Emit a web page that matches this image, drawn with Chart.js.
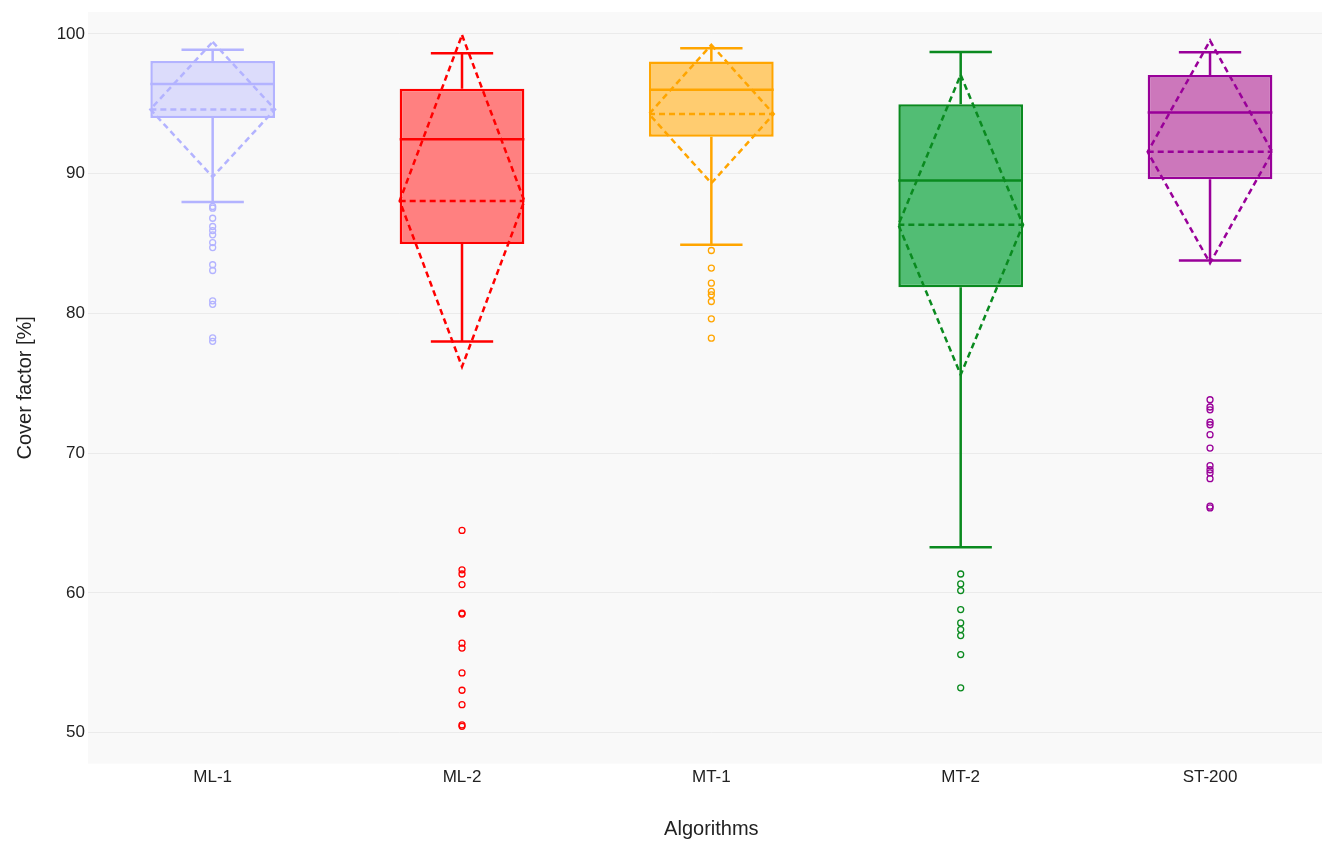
<!DOCTYPE html>
<html>
<head>
  <title>Cover factor by algorithm</title>
  <script src="https://cdn.jsdelivr.net/npm/chart.js"></script>
  <style>
    body {
      margin: 0;
      overflow: hidden;
      background: #fff;
    }
    .wrap {
      width: 1340px;
      height: 841px;
    }
  </style>
</head>
<body>
  <div class="wrap"><canvas id="boxChart"></canvas></div>

  <script>
    // box statistics per algorithm
    const categories = ['ML-1', 'ML-2', 'MT-1', 'MT-2', 'ST-200'];
    const q1Values = [93.99, 84.96, 92.65, 81.88, 89.60];
    const medianValues = [96.42, 92.47, 96.00, 89.51, 94.37];
    const q3Values = [98.07, 96.07, 98.02, 94.97, 97.07];
    const lowerFence = [87.98, 77.99, 84.91, 63.26, 83.79];
    const upperFence = [98.86, 98.62, 98.97, 98.70, 98.69];
    const meanValues = [94.60, 88.05, 94.27, 86.34, 91.56];
    const sdValues = [4.83, 11.87, 4.95, 10.73, 7.96];

    // outliers
    const outliersML1 = [87.65, 87.53, 86.81, 86.22, 85.93, 85.62, 85.07, 84.71, 83.48, 83.07, 80.90, 80.65, 78.25, 78.00];
    const outliersML2 = [64.47, 61.65, 61.35, 60.59, 58.55, 58.48, 56.40, 56.05, 54.27, 53.03, 52.00, 50.55, 50.45];
    const outliersMT1 = [84.50, 83.24, 82.16, 81.57, 81.33, 80.85, 79.61, 78.23];
    const outliersMT2 = [61.35, 60.64, 60.16, 58.80, 57.85, 57.37, 56.94, 55.58, 53.20];
    const outliersST200 = [73.82, 73.30, 73.10, 72.22, 72.03, 71.32, 70.36, 69.10, 68.81, 68.58, 68.17, 66.20, 66.08];
    const outlierLists = [outliersML1, outliersML2, outliersMT1, outliersMT2, outliersST200];

    const yTicks = [50, 60, 70, 80, 90, 100];

    const lineColors = ['#b3b3ff', '#ff0000', '#ffa500', '#0a8a1f', '#990099'];
    const fillColors = ['#dcdcfb', '#ff8080', '#ffcc70', '#52bd74', '#cc77bb'];

    const font = 'Liberation Sans, Arial, sans-serif';

    const boxExtras = {
      id: 'boxExtras',
      beforeDraw(chart) {
        const a = chart.chartArea;
        const ctx = chart.ctx;
        ctx.save();
        ctx.fillStyle = '#f9f9f9';
        ctx.fillRect(a.left, a.top, a.right - a.left, a.bottom - a.top);
        ctx.restore();
      },
      afterDatasetsDraw(chart) {
        const ctx = chart.ctx;
        const y = chart.scales.y;
        const bars = chart.getDatasetMeta(0).data;
        ctx.save();
        ctx.lineWidth = 2.5;
        bars.forEach((bar, i) => {
          const cx = bar.x;
          const half = bar.width / 2;
          const left = cx - half;
          const right = cx + half;
          ctx.strokeStyle = lineColors[i];

          // whiskers and caps
          ctx.setLineDash([]);
          ctx.beginPath();
          ctx.moveTo(cx, y.getPixelForValue(q3Values[i]));
          ctx.lineTo(cx, y.getPixelForValue(upperFence[i]));
          ctx.moveTo(cx, y.getPixelForValue(q1Values[i]));
          ctx.lineTo(cx, y.getPixelForValue(lowerFence[i]));
          ctx.moveTo(cx - half / 2, y.getPixelForValue(upperFence[i]));
          ctx.lineTo(cx + half / 2, y.getPixelForValue(upperFence[i]));
          ctx.moveTo(cx - half / 2, y.getPixelForValue(lowerFence[i]));
          ctx.lineTo(cx + half / 2, y.getPixelForValue(lowerFence[i]));
          // median
          ctx.moveTo(left, y.getPixelForValue(medianValues[i]));
          ctx.lineTo(right, y.getPixelForValue(medianValues[i]));
          ctx.stroke();

          // mean and sd diamond
          const ym = y.getPixelForValue(meanValues[i]);
          ctx.setLineDash([6, 4]);
          ctx.beginPath();
          ctx.moveTo(left, ym);
          ctx.lineTo(right, ym);
          ctx.stroke();
          ctx.beginPath();
          ctx.moveTo(cx, y.getPixelForValue(meanValues[i] + sdValues[i]));
          ctx.lineTo(right, ym);
          ctx.lineTo(cx, y.getPixelForValue(meanValues[i] - sdValues[i]));
          ctx.lineTo(left, ym);
          ctx.closePath();
          ctx.stroke();
        });
        ctx.restore();
      }
    };

    const outlierSets = outlierLists.map((list, i) => ({
      type: 'line',
      showLine: false,
      order: 0,
      data: list.map(v => ({ x: categories[i], y: v })),
      pointRadius: 3,
      pointBorderWidth: 1.3,
      pointBorderColor: lineColors[i],
      pointBackgroundColor: 'rgba(0,0,0,0)'
    }));

    const ctx = document.getElementById('boxChart').getContext('2d');
    new Chart(ctx, {
      type: 'bar',
      data: {
        labels: categories,
        datasets: [{
          order: 1,
          data: categories.map((c, i) => [q1Values[i], q3Values[i]]),
          backgroundColor: fillColors,
          borderColor: lineColors,
          borderWidth: 2.5,
          borderSkipped: false,
          barPercentage: 0.5,
          categoryPercentage: 1
        }, ...outlierSets]
      },
      options: {
        responsive: true,
        maintainAspectRatio: false,
        animation: false,
        layout: { padding: { top: 12, right: 0, bottom: 0, left: 0 } },
        plugins: {
          legend: { display: false },
          tooltip: { enabled: false }
        },
        scales: {
          x: {
            grid: { display: false, drawTicks: false },
            border: { display: false },
            ticks: { color: '#222', font: { family: font, size: 17 }, padding: 4 },
            afterFit: axis => { axis.paddingLeft = 0; axis.paddingRight = 0; },
            title: {
              display: true,
              text: 'Algorithms',
              color: '#222',
              font: { family: font, size: 20 },
              padding: { top: 25, bottom: 0 }
            }
          },
          y: {
            min: 47.78,
            max: 101.57,
            afterBuildTicks: axis => { axis.ticks = yTicks.map(v => ({ value: v })); },
            afterFit: axis => {
              axis.width = 88;
              axis.paddingTop = 0;
              axis.paddingBottom = 0;
            },
            grid: { color: '#ebebeb', lineWidth: 1, drawTicks: false },
            border: { display: false },
            ticks: { color: '#222', font: { family: font, size: 17 }, padding: 3 },
            title: {
              display: true,
              text: 'Cover factor [%]',
              color: '#222',
              font: { family: font, size: 20 },
              padding: { top: 13, bottom: 0 }
            }
          }
        }
      },
      plugins: [boxExtras]
    });
  </script>
</body>
</html>
